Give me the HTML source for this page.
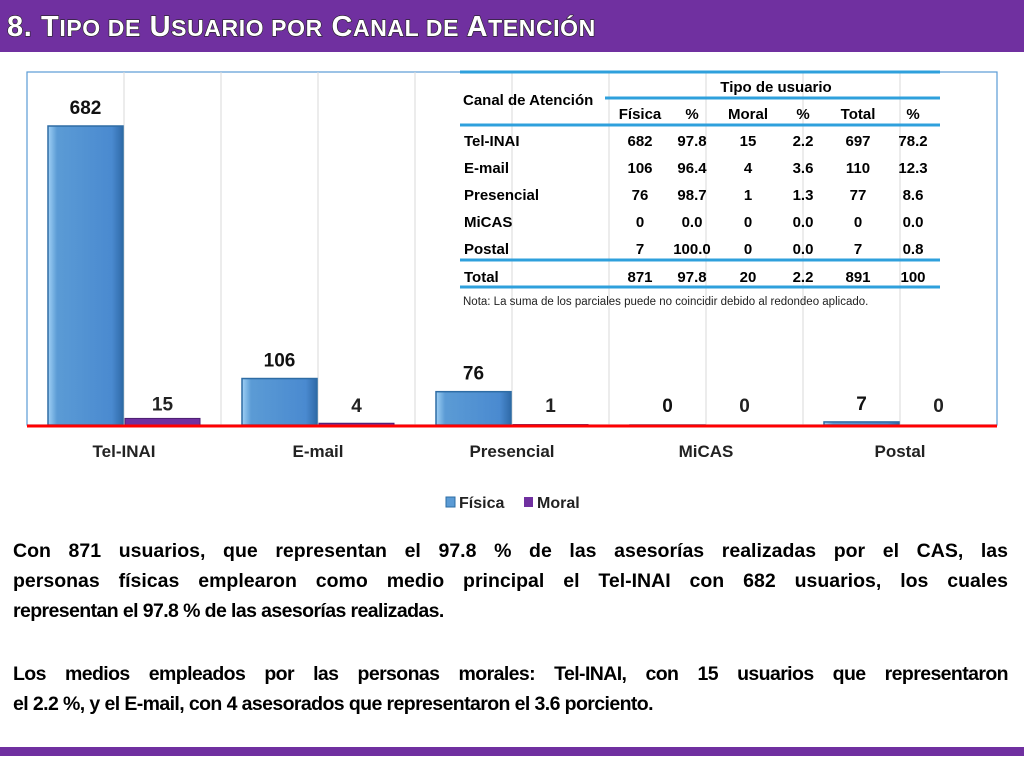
<!DOCTYPE html>
<html><head><meta charset="utf-8">
<style>
html,body{margin:0;padding:0;width:1024px;height:768px;overflow:hidden;background:#fff;font-family:"Liberation Sans",sans-serif;}
#title{position:absolute;left:0;top:0;width:1024px;height:52px;background:#7030a0;}
#title span.t{position:absolute;left:7px;top:11px;font-size:29px;line-height:32px;font-weight:bold;color:#fff;-webkit-text-stroke:1.2px #222;paint-order:stroke fill;letter-spacing:0.6px;white-space:nowrap;}
#title span.t small{font-size:23px;}
#bottombar{position:absolute;left:0;top:747px;width:1024px;height:9px;background:#7030a0;}
.para{position:absolute;left:13px;width:995px;font-size:19.5px;font-weight:bold;color:#000;}
.ln{height:30px;line-height:30px;white-space:nowrap;}
.j{text-align:justify;text-align-last:justify;}
</style></head><body>
<div id="title"><span class="t">8. T<small>IPO DE</small> U<small>SUARIO POR</small> C<small>ANAL DE</small> A<small>TENCIÓN</small></span></div>
<svg id="chart" width="1024" height="530" style="position:absolute;left:0;top:0" font-family="Liberation Sans, sans-serif"></svg>
<div class="para" style="top:536px">
<div class="ln j">Con 871 usuarios, que representan el 97.8 % de las asesorías realizadas por el CAS, las</div>
<div class="ln j">personas físicas emplearon como medio principal el Tel-INAI con 682 usuarios, los cuales</div>
<div class="ln" style="letter-spacing:-0.6px">representan el 97.8 % de las asesorías realizadas.</div>
</div>
<div class="para" style="top:659px">
<div class="ln j" style="letter-spacing:-0.6px">Los medios empleados por las personas morales: Tel-INAI, con 15 usuarios que representaron</div>
<div class="ln" style="letter-spacing:-0.6px">el 2.2 %, y el E-mail, con 4 asesorados que representaron el 3.6 porciento.</div>
</div>
<div id="bottombar"></div>
<script>
const categories=["Tel-INAI","E-mail","Presencial","MiCAS","Postal"];
const fisica=[682,106,76,0,7];
const moral=[15,4,1,0,0];
const tableRows=[["Tel-INAI","682","97.8","15","2.2","697","78.2"],["E-mail","106","96.4","4","3.6","110","12.3"],["Presencial","76","98.7","1","1.3","77","8.6"],["MiCAS","0","0.0","0","0.0","0","0.0"],["Postal","7","100.0","0","0.0","7","0.8"],["Total","871","97.8","20","2.2","891","100"]];
const tableHeaders=["Física","%","Moral","%","Total","%"];
const NS="http://www.w3.org/2000/svg";
const svg=document.getElementById('chart');
function el(t,a,p){const e=document.createElementNS(NS,t);for(const k in a)e.setAttribute(k,a[k]);(p||svg).appendChild(e);return e;}
const L=27,R=997,T=72,B=425,maxV=682,topPx=126;
const cw=(R-L)/categories.length;
const y=v=>B-v*(B-topPx)/maxV;
const xc=i=>L+cw*i;
const defs=el('defs',{});
const g1=el('linearGradient',{id:'gf',x1:0,x2:1,y1:0,y2:0},defs);
el('stop',{offset:'0','stop-color':'#9fd0f5'},g1);el('stop',{offset:'0.12','stop-color':'#5b9bd5'},g1);el('stop',{offset:'0.85','stop-color':'#4a8ad0'},g1);el('stop',{offset:'1','stop-color':'#2f6aa8'},g1);
let f=el('rect',{x:L,y:T,width:R-L,height:B-T,fill:'none',stroke:'#5b9bd5','stroke-width':1.2});

for(let k=1;k<categories.length*2;k++){let gl=el('line',{x1:L+k*cw/2,x2:L+k*cw/2,y1:T,y2:B,stroke:'#d9d9d9','stroke-width':1});
}
const tb=el('g',{});
const colX=[640,692,748,803,858,913];
const blue='#2fa0dc';
[[460,940,72],[605,940,98],[460,940,125],[460,940,260],[460,940,287]].forEach(l=>{let ln=el('line',{x1:l[0],x2:l[1],y1:l[2],y2:l[2],stroke:blue,'stroke-width':3},tb);});
let t=el('text',{x:463,y:105,'font-size':15,'font-weight':'bold',fill:'#000'},tb);t.textContent='Canal de Atención';
t=el('text',{x:776,y:92,'font-size':15,'font-weight':'bold','text-anchor':'middle'},tb);t.textContent='Tipo de usuario';
tableHeaders.forEach((h,i)=>{let tt=el('text',{x:colX[i],y:119,'font-size':15,'font-weight':'bold','text-anchor':'middle'},tb);tt.textContent=h;});
tableRows.forEach((r,ri)=>{const yy=146+ri*27+(ri==5?1:0);r.forEach((c,ci)=>{let tt=el('text',{x:ci==0?464:colX[ci-1],y:yy,'font-size':15,'font-weight':'bold','text-anchor':ci==0?'start':'middle'},tb);tt.textContent=c;});});
t=el('text',{x:463,y:305,'font-size':11.5,fill:'#222'},tb);t.textContent='Nota: La suma de los parciales puede no coincidir debido al redondeo aplicado.';
const bw=75;
categories.forEach((c,i)=>{
 const x0=xc(i)+21;
 const hf=B-y(fisica[i]);
 let b=el('rect',{x:x0,y:y(fisica[i]),width:bw,height:Math.max(hf,0.01),fill:'url(#gf)',stroke:'#2e6ca4','stroke-width':1.5});
 
 const hm=B-y(moral[i]);
 let m=el('rect',{x:x0+bw+2,y:y(moral[i]),width:bw,height:Math.max(hm,0.01),fill:'#7030a0',stroke:'#4b1f70','stroke-width':1});
 
 let lf=el('text',{x:x0+bw/2,y:Math.min(y(fisica[i])-12,412),'font-size':19,'font-weight':'bold','text-anchor':'middle',fill:'#111'});lf.textContent=fisica[i];
 
 let lm=el('text',{x:x0+bw*1.5+2,y:Math.min(y(moral[i])-8,412),'font-size':19,'font-weight':'bold','text-anchor':'middle',fill:'#222'});lm.textContent=moral[i];
 
 let cl=el('text',{x:xc(i)+cw/2,y:457,'font-size':17,'font-weight':'bold','text-anchor':'middle',fill:'#222'});cl.textContent=c;
 
});
let ax=el('line',{x1:L,x2:R,y1:B+1,y2:B+1,stroke:'#ff0000','stroke-width':3});

let lg=el('g',{});
let r1=el('rect',{x:446,y:497,width:9,height:10,fill:'#5b9bd5',stroke:'#2e6ca4'},lg);
let l1=el('text',{x:459,y:508,'font-size':16,'font-weight':'bold',fill:'#222'},lg);l1.textContent='Física';
let r2=el('rect',{x:524,y:497,width:9,height:10,fill:'#7030a0'},lg);
let l2=el('text',{x:537,y:508,'font-size':16,'font-weight':'bold',fill:'#222'},lg);l2.textContent='Moral';
</script>
</body></html>
